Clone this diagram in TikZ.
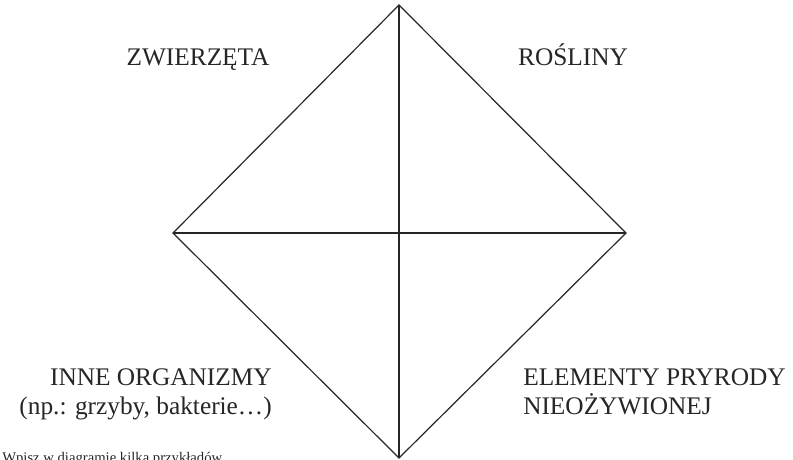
\documentclass[tikz,border=0pt]{standalone}
\usepackage{fontspec}
\setmainfont{Liberation Serif}
\begin{document}
\begin{tikzpicture}[x=0.75pt,y=-0.75pt,
  edge/.style={draw=black!85,line width=0.9pt,line join=miter},
  label/.style={font=\fontsize{19}{22}\selectfont,text=black!85,inner sep=0pt},
  note/.style={font=\fontsize{11}{13}\selectfont,text=black!85,inner sep=0pt,anchor=base west}]
\useasboundingbox (0,0) rectangle (793,460);
\coordinate (T) at (399,5);
\coordinate (L) at (173,233);
\coordinate (R) at (626,233);
\coordinate (B) at (399,458);
\draw[edge] (T) -- (R) -- (B) -- (L) -- cycle;
\draw[edge] (L) -- (R);
\draw[edge] (T) -- (B);
\node[label,anchor=base] (zw) at (198,66) {ZWIERZĘTA};
\node[label,anchor=base] (ro) at (573,66) {ROŚLINY};
\node[label,anchor=base east] (in1) at (272,385) {INNE ORGANIZMY};
\node[label,anchor=base east] (in2) at (272,414) {(np.: grzyby, bakterie…)};
\node[label,anchor=base west] (el1) at (523,385) {ELEMENTY PRYRODY};
\node[label,anchor=base west] (el2) at (523,414) {NIEOŻYWIONEJ};
\node[note] (nt) at (2,462) {Wpisz w diagramie kilka przykładów.};
\end{tikzpicture}
\end{document}
